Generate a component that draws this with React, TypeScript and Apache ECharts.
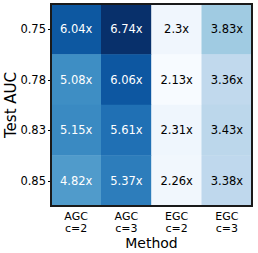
import React, { useEffect, useRef } from "react";
import * as echarts from "echarts";

const methods = ["AGC\nc=2", "AGC\nc=3", "EGC\nc=2", "EGC\nc=3"];
const aucLevels = ["0.75", "0.78", "0.83", "0.85"];
const row075 = [6.04, 6.74, 2.3, 3.83];
const row078 = [5.08, 6.06, 2.13, 3.36];
const row083 = [5.15, 5.61, 2.31, 3.43];
const row085 = [4.82, 5.37, 2.26, 3.38];
const rows = [row075, row078, row083, row085];

const blues = ["#f7fbff", "#deebf7", "#c6dbef", "#9ecae1", "#6baed6", "#4292c6", "#2171b5", "#08519c", "#08306b"];
const FONT = "DejaVu Sans";

export default function App() {
  const ref = useRef<HTMLDivElement>(null);
  useEffect(() => {
    const el = ref.current!;
    const chart = echarts.init(el, null, { renderer: "svg" });
    const all = rows.flat();
    const vmin = Math.min(...all);
    const vmax = Math.max(...all);
    const data: any[] = [];
    rows.forEach((r, yi) =>
      r.forEach((v, xi) => {
        data.push({
          value: [xi, yi, v],
          label: { color: v > (vmin + vmax) / 2 ? "#ffffff" : "#000000" },
        });
      })
    );
    const gl = 51, gt = 4, gw = 201, gh = 202;
    chart.setOption({
      animation: false,
      grid: { left: gl, top: gt, width: gw, height: gh, containLabel: false, outerBoundsMode: "none" },
      xAxis: {
        type: "category",
        data: methods,
        name: "Method",
        nameLocation: "middle",
        nameGap: 30,
        nameMoveOverlap: false,
        nameTextStyle: { fontFamily: FONT, fontSize: 14, color: "#000" },
        axisLine: { show: false },
        axisTick: { show: false },
        axisLabel: { fontFamily: FONT, fontSize: 11, color: "#000", lineHeight: 12, margin: 4 },
        splitLine: { show: false },
      },
      yAxis: {
        type: "category",
        data: aucLevels,
        inverse: true,
        name: "Test AUC",
        nameLocation: "middle",
        nameGap: 33,
        nameMoveOverlap: false,
        nameTextStyle: { fontFamily: FONT, fontSize: 15, color: "#000" },
        axisLine: { show: false },
        axisTick: { show: true, length: 3, alignWithLabel: true, lineStyle: { color: "#000" } },
        axisLabel: { fontFamily: FONT, fontSize: 11.5, color: "#000", margin: 5 },
        splitLine: { show: false },
      },
      visualMap: {
        show: false,
        min: vmin,
        max: vmax,
        dimension: 2,
        inRange: { color: blues },
      },
      series: [
        {
          type: "heatmap",
          data,
          label: {
            show: true,
            fontFamily: FONT,
            fontSize: 11.5,
            formatter: (p: any) => p.value[2] + "x",
          },
          itemStyle: { borderWidth: 0 },
        },
      ],
      graphic: [
        {
          type: "rect",
          z: 100,
          shape: { x: gl, y: gt, width: gw, height: gh },
          style: { fill: "none", stroke: "#1a1a1a", lineWidth: 2 },
        },
      ],
    });
    return () => chart.dispose();
  }, []);
  return (
    <div
      ref={ref}
      style={{ position: "absolute", left: 0, top: 0, width: 258, height: 253 }}
    />
  );
}
